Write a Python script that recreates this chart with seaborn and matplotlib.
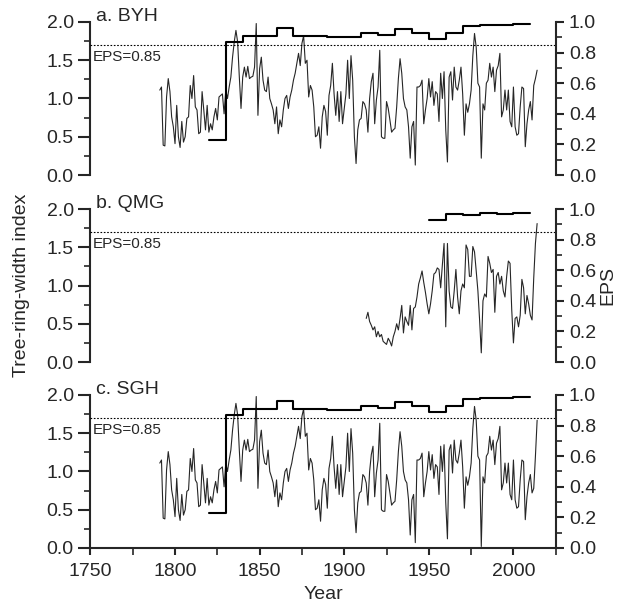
import matplotlib
matplotlib.use('Agg')
import matplotlib.pyplot as plt
from matplotlib.ticker import MultipleLocator
import numpy as np
import seaborn as sns

sns.set_style('ticks')
plt.rcParams['font.family'] = ['Liberation Sans', 'DejaVu Sans']

# tree-ring-width index, one value per year
byh_start = 1791
byh_ring = [
    1.11, 1.15, 0.39, 0.38, 1.02, 1.26, 1.09, 0.76, 0.63, 0.41, 0.91, 0.50, 0.36,
    0.70, 0.43, 0.50, 0.74, 0.76, 1.17, 1.00, 1.30, 0.89, 0.85, 0.54, 0.56, 1.09,
    0.85, 0.59, 0.91, 0.56, 0.67, 0.59, 0.76, 0.87, 0.72, 1.02, 1.04, 1.06, 0.80,
    1.11, 1.00, 1.15, 1.28, 1.54, 1.74, 1.89, 1.74, 1.28, 0.87, 1.28, 1.41, 1.28,
    # 1843-1900
    1.42, 1.26, 1.28, 1.29, 1.41, 1.98, 0.78, 1.39, 1.54, 1.24, 1.11, 1.09, 1.28,
    1.00, 0.93, 0.85, 0.67, 0.89, 0.54, 0.72, 0.63, 0.85, 1.00, 1.04, 0.87, 1.02,
    1.11, 1.24, 1.33, 1.46, 1.59, 1.43, 1.72, 1.82, 1.46, 1.50, 1.02, 1.17, 1.11,
    0.89, 0.50, 0.52, 0.63, 0.35, 0.76, 0.91, 0.83, 0.52, 1.04, 1.17, 1.46, 1.06,
    0.78, 1.09, 0.70, 1.09, 0.67, 0.87,
    # 1901-1956
    1.06, 1.50, 1.00, 1.56, 1.24, 0.50, 0.15, 0.59, 0.72, 0.74, 0.96, 0.93, 0.85,
    0.56, 1.00, 1.22, 1.33, 0.67, 0.98, 1.15, 1.63, 0.50, 0.48, 0.48, 0.96, 0.87,
    0.72, 0.56, 0.59, 0.61, 0.89, 1.26, 1.52, 1.33, 1.00, 0.89, 0.85, 0.63, 0.22,
    0.63, 0.70, 0.13, 1.15, 1.15, 1.17, 1.24, 0.67, 0.85, 1.00, 1.26, 1.02, 1.22,
    0.91, 1.09, 1.06, 0.70,
    # 1957-2014
    1.33, 1.00, 1.35, 0.59, 0.17, 1.28, 1.35, 0.98, 1.41, 1.15, 1.11, 1.24, 1.41,
    1.06, 0.52, 0.93, 0.82, 0.93, 1.11, 1.56, 1.85, 1.67, 1.20, 1.15, 0.22, 0.93,
    0.85, 1.20, 1.24, 1.46, 1.28, 1.41, 1.09, 1.37, 1.43, 1.59, 0.76, 0.85, 1.11,
    0.85, 1.11, 0.70, 0.63, 1.15, 0.63, 0.52, 0.54, 0.89, 1.15, 1.13, 0.37, 0.67,
    0.85, 0.96, 0.72, 1.17, 1.26, 1.37,
]

qmg_start = 1913
qmg_ring = [
    0.57, 0.65, 0.53, 0.48, 0.42, 0.46, 0.33, 0.40, 0.33, 0.36, 0.27, 0.25, 0.23,
    0.31, 0.27, 0.21, 0.33, 0.40, 0.50, 0.42, 0.57, 0.74, 0.38, 0.59, 0.53, 0.48,
    0.74, 0.42, 0.70, 0.72, 0.85, 1.02, 1.10, 1.19, 1.04, 0.91, 0.76, 0.63, 0.76,
    0.93, 1.15, 1.17, 1.23, 1.21, 0.97, 1.27, 1.55, 0.46, 1.55, 0.93, 0.72, 0.70,
    0.93, 1.21, 0.85, 0.63, 0.93, 1.02, 0.97, 1.53, 1.47, 1.12, 1.12, 1.51, 1.44,
    1.19, 0.93, 0.55, 0.12, 0.80, 0.89, 0.85, 1.38, 1.29, 1.17, 1.21, 0.65, 1.12,
    1.17, 1.02, 1.12, 0.93, 0.85, 1.12, 1.32, 1.29, 0.68, 0.25, 0.57, 0.59, 0.46,
    0.61, 1.08, 0.97, 0.63, 0.87, 0.76, 0.61, 0.55, 1.10, 1.55, 1.81,
]

# SGH follows BYH except in these years
sgh_start = 1791
sgh_changes = {1907: 0.20, 1939: 0.17, 1942: 0.07, 1961: 0.12, 1981: 0.02,
               2012: 0.78, 2013: 1.20, 2014: 1.67}

# EPS, one value per decade
eps_decades = [1820, 1830, 1840, 1850, 1860, 1870, 1880, 1890, 1900, 1910,
               1920, 1930, 1940, 1950, 1960, 1970, 1980, 1990, 2000]
byh_eps = [0.23, 0.87, 0.91, 0.91, 0.96, 0.91, 0.91, 0.905, 0.905, 0.93,
           0.915, 0.957, 0.926, 0.89, 0.928, 0.974, 0.98, 0.98, 0.985]
sgh_eps = [0.23, 0.87, 0.91, 0.91, 0.96, 0.91, 0.91, 0.905, 0.905, 0.93,
           0.915, 0.957, 0.926, 0.89, 0.928, 0.974, 0.983, 0.983, 0.988]
qmg_decades = [1950, 1960, 1970, 1980, 1990, 2000]
qmg_eps = [0.93, 0.965, 0.962, 0.972, 0.968, 0.974]

eps_limit = 0.85

byh_years = np.arange(byh_start, byh_start + len(byh_ring))
qmg_years = np.arange(qmg_start, qmg_start + len(qmg_ring))
sgh_years = np.arange(sgh_start, sgh_start + len(byh_ring))
sgh_ring = [sgh_changes.get(y, v) for y, v in zip(sgh_years, byh_ring)]

panels = [
    ('a. BYH', byh_years, byh_ring, eps_decades, byh_eps),
    ('b. QMG', qmg_years, qmg_ring, qmg_decades, qmg_eps),
    ('c. SGH', sgh_years, sgh_ring, eps_decades, sgh_eps),
]

fig = plt.figure(figsize=(6.24, 6.16), dpi=100)
bottoms = [0.7159, 0.4123, 0.1104]
fs = 14

for i, (title, yrs, ring, dec, eps) in enumerate(panels):
    ax = fig.add_axes([0.1449, bottoms[i], 0.7457, 0.2484])
    ax2 = ax.twinx()

    sns.lineplot(x=yrs, y=ring, ax=ax, color='#262626', lw=0.8)
    step_x = list(dec) + [dec[-1] + 10]
    step_y = list(eps) + [eps[-1]]
    sns.lineplot(x=step_x, y=step_y, ax=ax2, color='black', lw=1.5,
                 drawstyle='steps-post')
    ax2.axhline(eps_limit, color='black', lw=0.8, ls=(0, (1.5, 1.5)))

    ax.set_xlim(1750, 2025)
    ax.set_ylim(0, 2.0)
    ax2.set_ylim(0, 1.0)
    ax.yaxis.set_major_locator(MultipleLocator(0.5))
    ax.yaxis.set_minor_locator(MultipleLocator(0.25))
    ax2.yaxis.set_major_locator(MultipleLocator(0.2))
    ax2.yaxis.set_minor_locator(MultipleLocator(0.1))

    for a in (ax, ax2):
        a.spines['top'].set_visible(False)
        for s in a.spines.values():
            s.set_linewidth(1.5)
    ax.tick_params(axis='y', which='major', length=9, width=1.5, pad=3,
                   labelsize=fs)
    ax.tick_params(axis='y', which='minor', length=4.5, width=1.2)
    ax2.tick_params(axis='y', which='major', length=5.5, width=1.5, pad=4,
                    labelsize=fs)
    ax2.tick_params(axis='y', which='minor', length=4, width=1.2)
    ax.spines['right'].set_visible(False)
    ax2.spines['left'].set_visible(False)
    ax2.spines['bottom'].set_visible(False)

    if i < 2:
        ax.spines['bottom'].set_visible(False)
        ax.tick_params(axis='x', which='both', bottom=False, labelbottom=False)
    else:
        ax.xaxis.set_major_locator(MultipleLocator(50))
        ax.xaxis.set_minor_locator(MultipleLocator(25))
        ax.set_xticks([1750, 1800, 1850, 1900, 1950, 2000])
        ax.tick_params(axis='x', which='major', length=5, width=1.5, pad=6,
                       labelsize=fs)
        ax.tick_params(axis='x', which='minor', length=5, width=1.2)
        ax.set_xlabel('Year', fontsize=fs, labelpad=4)

    ax.text(0.012, 1.035, title, transform=ax.transAxes, va='center',
            ha='left', fontsize=fs)
    ax.text(0.006, 0.77, 'EPS=0.85', transform=ax.transAxes, va='center',
            ha='left', fontsize=11)

    if i == 1:
        ax.set_ylabel('Tree-ring-width index', fontsize=fs, labelpad=12)
        ax2.set_ylabel('EPS', fontsize=fs, labelpad=2)
    else:
        ax.set_ylabel('')
        ax2.set_ylabel('')

fig.savefig('out.png', dpi=100)
